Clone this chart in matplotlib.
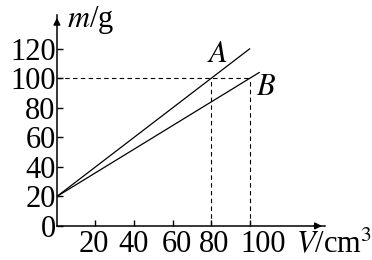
import matplotlib
matplotlib.use("Agg")
import matplotlib.pyplot as plt
from matplotlib.transforms import ScaledTranslation

# data
v_ticks = [20, 40, 60, 80, 100]
m_ticks = [0, 20, 40, 60, 80, 100, 120]
a_v = [0, 100]
a_m = [20, 120]
b_v = [0, 105]
b_m = [20, 104]
ref_m = 100
a_ref_v = 80
b_ref_v = 100

plt.rcParams['font.family'] = ['Liberation Serif', 'DejaVu Serif']
plt.rcParams['mathtext.fontset'] = 'stix'

fig = plt.figure(figsize=(3.72, 2.60), dpi=100)
ax = fig.add_axes([0.153, 0.131, 0.72, 0.8115])
ax.set_xlim(0, 139)
ax.set_ylim(0, 143)

for s in ['top', 'right']:
    ax.spines[s].set_visible(False)
for s in ['left', 'bottom']:
    ax.spines[s].set_linewidth(1.1)

ax.plot(a_v, a_m, color='black', lw=0.9)
ax.plot(b_v, b_m, color='black', lw=0.9)

# dashed guides
ax.plot([0, b_ref_v], [ref_m, ref_m], color='black', lw=0.8, ls=(0, (4, 3)))
ax.plot([a_ref_v, a_ref_v], [0, ref_m], color='black', lw=0.8, ls=(0, (4, 3)))
ax.plot([b_ref_v, b_ref_v], [0, ref_m], color='black', lw=0.8, ls=(0, (4, 3)))

ax.set_xticks(v_ticks)
ax.set_yticks(m_ticks)
ax.tick_params(direction='in', length=4, width=1, labelsize=22, pad=3)
ax.tick_params(axis='y', pad=1)

# nudge crowded x labels to the right like the original
shifts = [-2, 0, 4, 3, 14]
for tick, dx in zip(ax.xaxis.get_major_ticks(), shifts):
    lab = tick.label1
    lab.set_transform(lab.get_transform() + ScaledTranslation(dx / 100, 0, fig.dpi_scale_trans))

# arrows
ax.annotate('', xy=(1.0, 0), xytext=(0.95, 0), xycoords=('axes fraction', 'data'),
            arrowprops=dict(arrowstyle='-|>', color='black', lw=1.1, mutation_scale=10))
ax.annotate('', xy=(0, 1.0), xytext=(0, 0.95), xycoords=('data', 'axes fraction'),
            arrowprops=dict(arrowstyle='-|>', color='black', lw=1.1, mutation_scale=10))

ax.text(83.5, 116, '$A$', fontsize=22, ha='center', va='center')
ax.text(108.5, 94, '$B$', fontsize=22, ha='center', va='center')
fig.text(0.18, 0.925, '$m$/g', fontsize=22, ha='left', va='center')
fig.text(0.795, 0.06, '$V$/cm$^3$', fontsize=22, ha='left', va='center')

fig.savefig('out.png', dpi=100)
